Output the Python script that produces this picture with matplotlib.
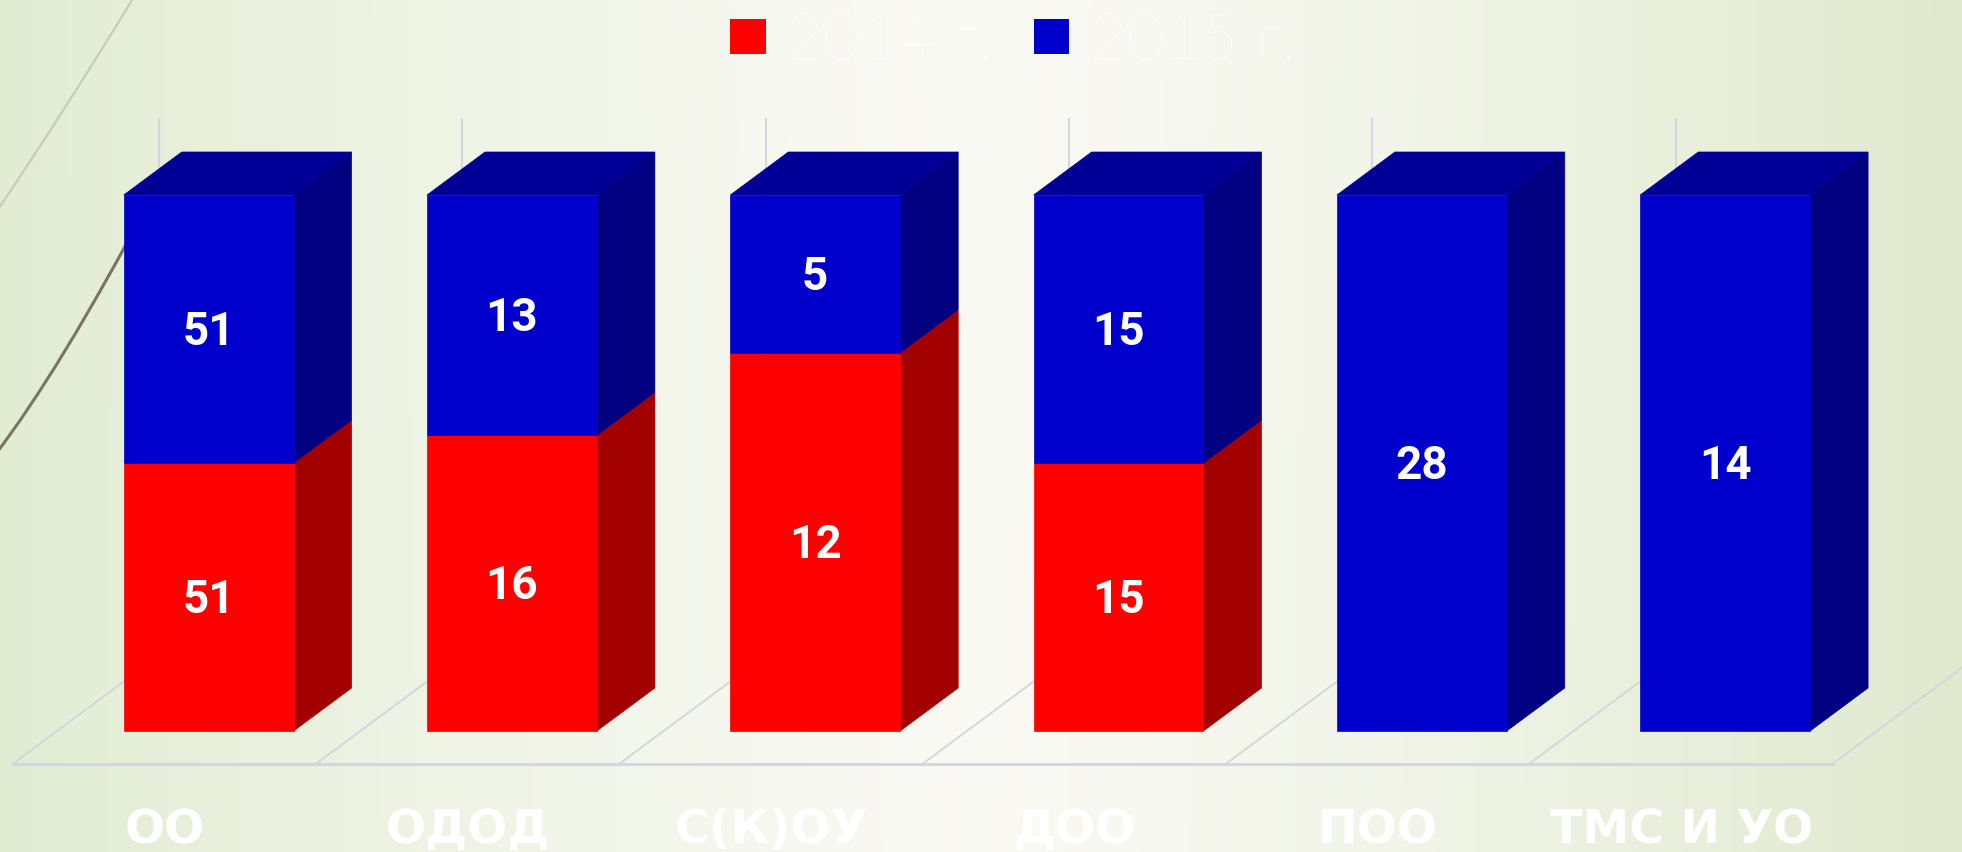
import numpy as np
import matplotlib
matplotlib.use("Agg")
import matplotlib.pyplot as plt
from matplotlib.patches import Rectangle, Polygon, Patch
from matplotlib.path import Path
from matplotlib.patches import PathPatch
from matplotlib.font_manager import FontProperties

# ---------------- data ----------------
categories = ["ОО", "ОДОД", "С(К)ОУ", "ДОО", "ПОО", "ТМС И УО"]
series_names = ["2014 г.", "2015 г."]
values_2014 = [51, 16, 12, 15, 0, 0]
values_2015 = [51, 13, 5, 15, 28, 14]

# ---------------- style ----------------
front_cols = ["#FF0000", "#0000CC"]
side_cols = ["#A30000", "#000080"]
top_cols = ["#A30000", "#000096"]
grid_col = "#D4D6DE"

W, H = 1962, 852
PX_CAT = 303.3      # pixels per category
PX_PCT = 5.36       # pixels per percent
X0, Y0 = 57, 731    # pixel position of data origin (from top-left)
DX = 58 / PX_CAT    # depth offset per unit depth (x, categories)
DZ = 43 / PX_PCT    # depth offset per unit depth (y, percent)
FLOOR_FRONT, FLOOR_BACK = -0.76, 1.76
BAR_W = 0.56

fig = plt.figure(figsize=(W / 100, H / 100), dpi=100)
ax = fig.add_axes([0, 0, 1, 1])
xlim = (-X0 / PX_CAT, (W - X0) / PX_CAT)
ylim = (-(H - Y0) / PX_PCT, Y0 / PX_PCT)
ax.set_xlim(*xlim)
ax.set_ylim(*ylim)
ax.axis("off")

# ---------------- background gradient ----------------
nx, ny = 400, 100
u = np.linspace(0, 1, nx)
v = np.linspace(0, 1, ny)[:, None]
left = np.array([226, 236, 211]) / 255
mid = np.array([250, 250, 244]) / 255
right = np.array([224, 233, 206]) / 255
t = u[None, :, None]
wl = np.clip(1 - t / 0.5, 0, 1) ** 1.3
wr = np.clip((t - 0.5) / 0.5, 0, 1) ** 1.3
wm = 1 - wl - wr
img = wl * left + wm * mid + wr * right
img = np.broadcast_to(img, (ny, nx, 3)).copy()
img = img * (1 - 0.03 * v[..., None]) + 0.03 * v[..., None] * np.array([0.9, 0.94, 0.85])
ax.imshow(img, extent=(xlim[0], xlim[1], ylim[0], ylim[1]), aspect="auto",
          zorder=0, interpolation="bilinear")

# decorative theme curves (top-left)
def px2data(px, py):
    return ((px - X0) / PX_CAT, (Y0 - py) / PX_PCT)

def curve(pts, color, lw, z):
    verts = [px2data(*p) for p in pts]
    path = Path(verts, [Path.MOVETO, Path.CURVE3, Path.CURVE3])
    ax.add_patch(PathPatch(path, fill=False, edgecolor=color, lw=lw, zorder=z))

curve([(-5, 214), (62, 115), (134, -3)], "#C9CCB8", 1.6, 1)
curve([(-5, 455), (60, 370), (150, 200)], "#7A7560", 2.2, 1)

# ---------------- floor & walls ----------------
n = len(categories)
ax.plot([0 + FLOOR_FRONT * DX, n + FLOOR_FRONT * DX],
        [FLOOR_FRONT * DZ] * 2, color=grid_col, lw=2.2, zorder=2)
for k in range(n + 1):
    ax.plot([k + FLOOR_FRONT * DX, k + FLOOR_BACK * DX],
            [FLOOR_FRONT * DZ, FLOOR_BACK * DZ], color=grid_col, lw=1.4, zorder=2)
    ax.plot([k + FLOOR_BACK * DX] * 2,
            [FLOOR_BACK * DZ, 100 + FLOOR_BACK * DZ], color=grid_col, lw=1.4, zorder=2)

# ---------------- 3D stacked 100% bars ----------------
series = [values_2014, values_2015]
for i in range(n):
    total = sum(s[i] for s in series)
    x0 = i + 0.5 - BAR_W / 2
    x1 = x0 + BAR_W
    z0 = 0.0
    nonzero = [j for j in range(len(series)) if series[j][i] > 0]
    for j in range(len(series)):
        val = series[j][i]
        if val <= 0:
            continue
        z1 = z0 + val / total * 100
        ax.add_patch(Polygon([(x1, z0), (x1 + DX, z0 + DZ), (x1 + DX, z1 + DZ), (x1, z1)],
                             closed=True, facecolor=side_cols[j], edgecolor=side_cols[j],
                             lw=0.5, zorder=3))
        if j == nonzero[-1]:
            ax.add_patch(Polygon([(x0, z1), (x1, z1), (x1 + DX, z1 + DZ), (x0 + DX, z1 + DZ)],
                                 closed=True, facecolor=top_cols[j], edgecolor=top_cols[j],
                                 lw=0.5, zorder=3))
        ax.add_patch(Rectangle((x0, z0), BAR_W, z1 - z0, facecolor=front_cols[j],
                               edgecolor=front_cols[j], lw=0.5, zorder=4))
        zc = (z0 + z1) / 2
        ax.text((x0 + x1) / 2, zc - 16 / PX_PCT, f"{val}", ha="center", va="baseline",
                color="white", fontsize=33, fontweight="bold",
                family=["Roboto", "DejaVu Sans"], zorder=5)
        z0 = z1

# ---------------- category labels ----------------
for i, c in enumerate(categories):
    ax.text(i + 0.5 + FLOOR_FRONT * DX, (Y0 - 843) / PX_PCT, c, ha="center", va="baseline",
            color="white", fontsize=34, fontweight="bold",
            family=["DejaVu Sans"], zorder=5)

# ---------------- legend ----------------
handles = [Patch(facecolor=front_cols[j], edgecolor="none", label=series_names[j])
           for j in range(len(series_names))]
leg = fig.legend(handles=handles, loc="center", bbox_to_anchor=(1013 / W, 1 - 42 / H),
                 ncol=2, frameon=False,
                 prop=FontProperties(family=["Lato", "DejaVu Sans"], weight="light", size=46),
                 handlelength=0.56, handleheight=0.48, handletextpad=0.32,
                 columnspacing=0.64, labelcolor="white")

fig.savefig("out.png", dpi=100)
